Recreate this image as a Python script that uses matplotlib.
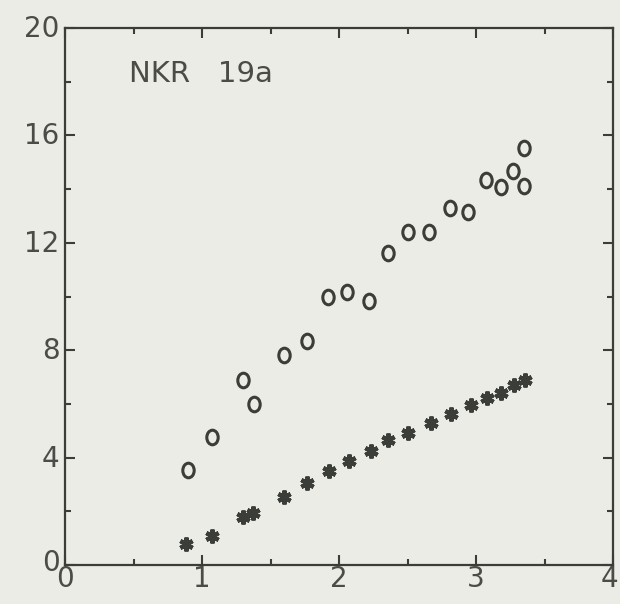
import matplotlib
matplotlib.use("Agg")
import matplotlib.pyplot as plt
from matplotlib.path import Path
from matplotlib.transforms import Affine2D, ScaledTranslation
from matplotlib.ticker import MultipleLocator

# data
circle_x = [0.90, 1.07, 1.30, 1.38, 1.60, 1.77, 1.92, 2.06, 2.22, 2.36, 2.50, 2.66,
            2.81, 2.94, 3.07, 3.18, 3.27, 3.35, 3.35]
circle_y = [3.54, 4.77, 6.89, 6.00, 7.82, 8.34, 9.98, 10.17, 9.83, 11.62, 12.40, 12.40,
            13.30, 13.15, 14.34, 14.08, 14.67, 14.10, 15.53]
star_x = [0.88, 1.07, 1.30, 1.37, 1.60, 1.77, 1.93, 2.07, 2.23, 2.36, 2.50, 2.67,
          2.82, 2.96, 3.08, 3.18, 3.28, 3.36]
star_y = [0.78, 1.08, 1.79, 1.94, 2.53, 3.05, 3.50, 3.87, 4.25, 4.66, 4.92, 5.29,
          5.62, 5.96, 6.22, 6.41, 6.70, 6.89]
x_ticks = [0, 1, 2, 3, 4]
y_ticks = [0, 4, 8, 12, 16, 20]
label = "NKR   19a"

ink = "#3b3d38"
txt = "#4a4c47"
bg = "#ecece7"

fig = plt.figure(figsize=(6.2, 6.04), dpi=100, facecolor=bg)
ax = fig.add_axes([65/620, 39/604, 548/620, 537/604])
ax.set_facecolor(bg)

ell = Path.unit_circle().transformed(Affine2D().scale(0.78, 1.0))
ax.plot(circle_x, circle_y, linestyle="none", marker=ell, markersize=10.5,
        markerfacecolor="none", markeredgecolor=ink, markeredgewidth=2.2)
ax.plot(star_x, star_y, linestyle="none", marker=(6, 2, 0), markersize=10,
        markeredgecolor=ink, markeredgewidth=3.0)

ax.set_xlim(0, 4)
ax.set_ylim(0, 20)
ax.xaxis.set_minor_locator(MultipleLocator(0.5))
ax.yaxis.set_minor_locator(MultipleLocator(2))
ax.set_xticks(x_ticks)
ax.set_yticks(y_ticks)
ax.set_xticklabels([str(t) for t in x_ticks])
ax.set_yticklabels([str(t) for t in y_ticks])

ax.tick_params(which="both", direction="in", top=True, right=True, color=ink,
               width=1.5, labelcolor=txt, labelsize=20)
ax.tick_params(which="major", length=7)
ax.tick_params(which="minor", length=4)
ax.tick_params(axis="x", which="major", pad=0)
ax.tick_params(axis="y", which="major", pad=4)
ylabels = ax.get_yticklabels()
for lab in ylabels:
    lab.set_verticalalignment("center_baseline")
    lab.set_transform(lab.get_transform() + ScaledTranslation(0, 2/100, fig.dpi_scale_trans))
ylabels[0].set_transform(ylabels[0].get_transform() + ScaledTranslation(0, 3/100, fig.dpi_scale_trans))
xlabels = ax.get_xticklabels()
xlabels[-1].set_transform(xlabels[-1].get_transform() + ScaledTranslation(-4/100, 0, fig.dpi_scale_trans))
for s in ax.spines.values():
    s.set_color(ink)
    s.set_linewidth(1.6)

ax.text(0.47, 18.3, label, color=txt, fontsize=21, va="center", ha="left")

fig.savefig("out.png", dpi=100, facecolor=bg)
